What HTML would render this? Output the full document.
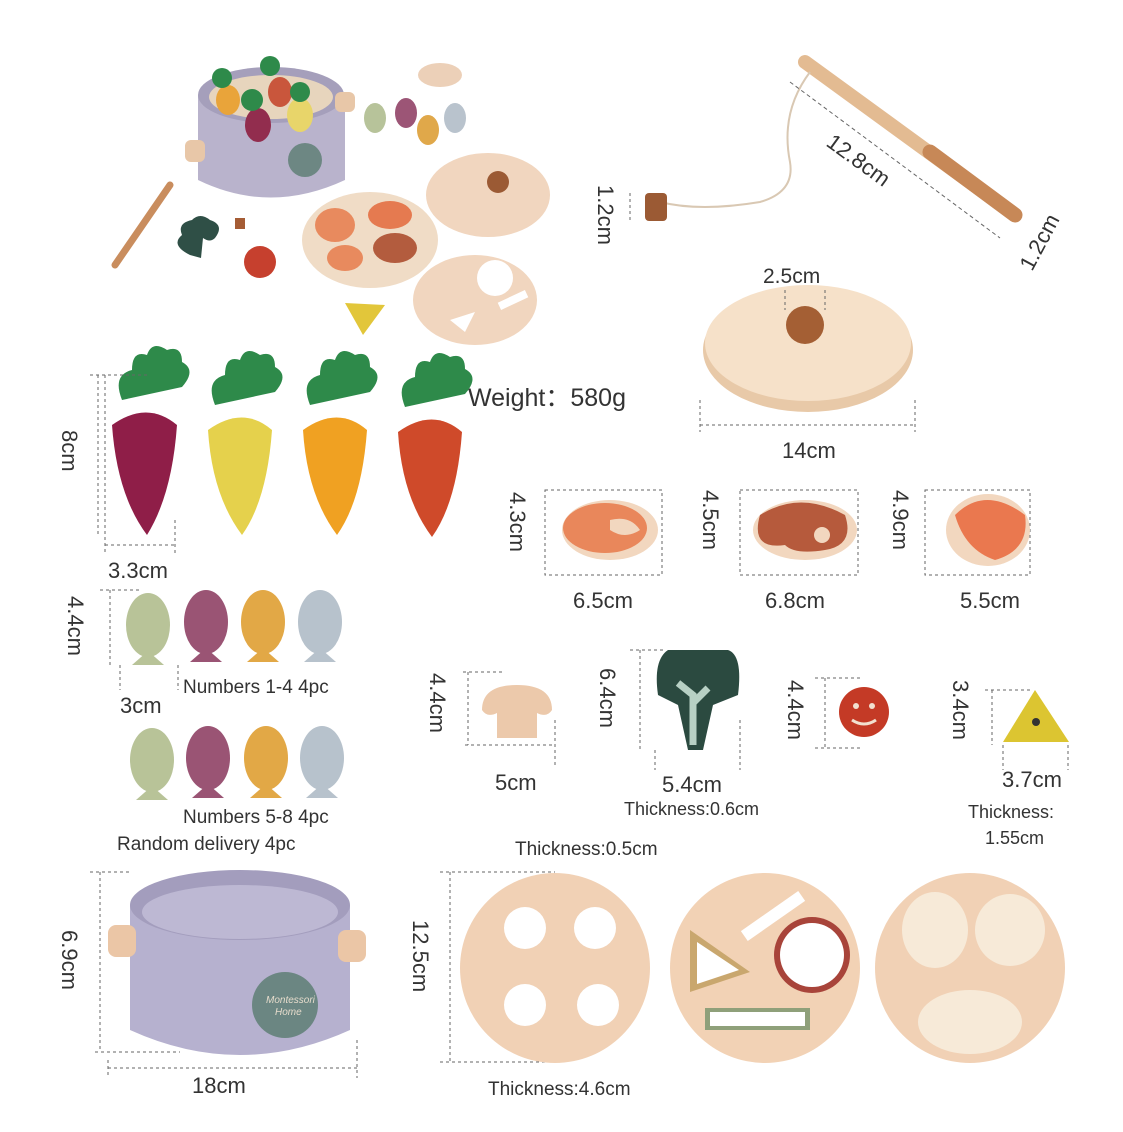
<!DOCTYPE html>
<html><head><meta charset="utf-8"><style>
html,body{margin:0;padding:0;background:#fff;}
svg{display:block;}
text{font-family:"Liberation Sans",sans-serif;fill:#333;}
</style></head><body>
<svg width="1123" height="1132" viewBox="0 0 1123 1132" xmlns="http://www.w3.org/2000/svg">
<rect width="1123" height="1132" fill="#fff"/>
<defs>
<g id="carrotLeaves"><path d="M-25,-5 q-10,-25 10,-30 q0,-20 15,-15 q5,-15 20,-5 q15,-5 15,12 q15,8 0,25 z" fill="#2e8a4a"/></g>
</defs>

<!-- TOP-LEFT COMPOSITE -->
<g>
 <!-- pot -->
 <path d="M198,95 L198,180 Q270,215 345,180 L345,95 Z" fill="#b9b3cc"/>
 <ellipse cx="271" cy="95" rx="73" ry="28" fill="#a59fbb"/>
 <ellipse cx="271" cy="97" rx="62" ry="22" fill="#e7d5bd"/>
 <rect x="185" y="140" width="20" height="22" rx="6" fill="#e8c7a8"/>
 <rect x="335" y="92" width="20" height="20" rx="6" fill="#e8c7a8"/>
 <circle cx="305" cy="160" r="17" fill="#6d8783"/>
 <ellipse cx="228" cy="100" rx="12" ry="15" fill="#e9a43a"/>
 <ellipse cx="258" cy="125" rx="13" ry="17" fill="#922d4e"/>
 <ellipse cx="280" cy="92" rx="12" ry="15" fill="#c9563c"/>
 <ellipse cx="300" cy="115" rx="13" ry="17" fill="#e8d56a"/>
 <circle cx="222" cy="78" r="10" fill="#2e8a4a"/><circle cx="252" cy="100" r="11" fill="#2e8a4a"/>
 <circle cx="270" cy="66" r="10" fill="#2e8a4a"/><circle cx="300" cy="92" r="10" fill="#2e8a4a"/>
 <!-- fish -->
 <ellipse cx="375" cy="118" rx="11" ry="15" fill="#b7c39a"/>
 <ellipse cx="406" cy="113" rx="11" ry="15" fill="#9c5576"/>
 <ellipse cx="428" cy="130" rx="11" ry="15" fill="#e0a84a"/>
 <ellipse cx="455" cy="118" rx="11" ry="15" fill="#b9c3cd"/>
 <ellipse cx="440" cy="75" rx="22" ry="12" fill="#ecd0b8"/>
 <!-- lid -->
 <ellipse cx="488" cy="195" rx="62" ry="42" fill="#f1d6bf"/>
 <circle cx="498" cy="182" r="11" fill="#9b5a34"/>
 <!-- meat plate -->
 <ellipse cx="370" cy="240" rx="68" ry="48" fill="#f0dcc6"/>
 <ellipse cx="335" cy="225" rx="20" ry="17" fill="#e88a5e"/>
 <ellipse cx="390" cy="215" rx="22" ry="14" fill="#e57a50"/>
 <ellipse cx="395" cy="248" rx="22" ry="15" fill="#b35c3e"/>
 <ellipse cx="345" cy="258" rx="18" ry="13" fill="#e88a5e"/>
 <!-- shape disc -->
 <ellipse cx="475" cy="300" rx="62" ry="45" fill="#f1d6bf"/>
 <circle cx="495" cy="278" r="18" fill="#fff"/>
 <path d="M450,320 l25,-8 l-10,20z" fill="#fff"/>
 <rect x="498" y="296" width="30" height="8" fill="#fff" transform="rotate(-25 513 300)"/>
 <!-- misc -->
 <path d="M190,255 q-20,-10 -8,-20 q-5,-12 10,-15 q8,-8 18,0 q15,5 5,18 q-5,5 -12,0 l-2,20 z" fill="#2f4f46"/>
 <circle cx="260" cy="262" r="16" fill="#c6402e"/>
 <path d="M345,303 l40,2 l-22,30z" fill="#e2c63a"/>
 <line x1="115" y1="265" x2="170" y2="185" stroke="#c98d5e" stroke-width="7" stroke-linecap="round"/>
 <rect x="235" y="218" width="10" height="11" fill="#a55c35"/>
</g>

<!-- FISHING ROD -->
<line x1="805" y1="62" x2="1015" y2="215" stroke="#e3bb92" stroke-width="14" stroke-linecap="round"/>
<line x1="930" y1="152" x2="1015" y2="215" stroke="#c78857" stroke-width="15" stroke-linecap="round"/>
<path d="M810,72 q-30,40 -20,90 q5,30 -30,40 q-60,10 -100,0" stroke="#d9c8b3" stroke-width="2" fill="none"/>
<rect x="645" y="193" width="22" height="28" rx="4" fill="#9b5a34"/>
<line x1="790" y1="82" x2="1000" y2="238" stroke="#666" stroke-width="1" stroke-dasharray="4,3"/>
<line x1="630" y1="193" x2="630" y2="223" stroke="#666" stroke-width="1" stroke-dasharray="3,3"/>
<text x="0" y="0" font-size="22" transform="translate(825,145) rotate(36)">12.8cm</text>
<text x="0" y="0" font-size="22" transform="translate(598,185) rotate(90)">1.2cm</text>
<text x="0" y="0" font-size="22" transform="translate(1032,272) rotate(-62)">1.2cm</text>

<!-- LID -->
<ellipse cx="808" cy="350" rx="105" ry="62" fill="#e8c9a8"/>
<ellipse cx="808" cy="343" rx="103" ry="58" fill="#f6e1c9"/>
<circle cx="805" cy="325" r="19" fill="#a45f34"/>
<line x1="785" y1="290" x2="785" y2="310" stroke="#666" stroke-dasharray="3,3"/>
<line x1="825" y1="290" x2="825" y2="310" stroke="#666" stroke-dasharray="3,3"/>
<text x="763" y="283" font-size="21">2.5cm</text>
<line x1="700" y1="400" x2="700" y2="432" stroke="#666" stroke-dasharray="3,3"/>
<line x1="915" y1="400" x2="915" y2="432" stroke="#666" stroke-dasharray="3,3"/>
<line x1="700" y1="425" x2="915" y2="425" stroke="#666" stroke-dasharray="3,3"/>
<text x="782" y="458" font-size="22">14cm</text>

<text x="468" y="406" font-size="25" fill="#333">Weight：580g</text>

<!-- CARROTS -->
<g transform="translate(147,405)"><path d="M-35,20 q35,-25 65,0 q-5,70 -30,110 q-30,-40 -35,-110z" fill="#8f1e48"/><use href="#carrotLeaves"/></g>
<g transform="translate(240,410)"><path d="M-32,20 q35,-25 64,0 q-5,70 -30,105 q-30,-40 -34,-105z" fill="#e5d14c"/><use href="#carrotLeaves"/></g>
<g transform="translate(335,410)"><path d="M-32,20 q35,-25 64,0 q-5,70 -30,105 q-30,-40 -34,-105z" fill="#f0a122"/><use href="#carrotLeaves"/></g>
<g transform="translate(430,412)"><path d="M-32,20 q35,-25 64,0 q-5,70 -30,105 q-30,-40 -34,-105z" fill="#cf4a2a"/><use href="#carrotLeaves"/></g>
<line x1="90" y1="375" x2="150" y2="375" stroke="#666" stroke-dasharray="3,3"/>
<line x1="98" y1="375" x2="98" y2="535" stroke="#666" stroke-dasharray="3,3"/>
<line x1="105" y1="375" x2="105" y2="555" stroke="#666" stroke-dasharray="3,3"/>
<line x1="175" y1="520" x2="175" y2="555" stroke="#666" stroke-dasharray="3,3"/>
<line x1="105" y1="545" x2="175" y2="545" stroke="#666" stroke-dasharray="3,3"/>
<text font-size="22" transform="translate(62,430) rotate(90)">8cm</text>
<text x="108" y="578" font-size="22">3.3cm</text>

<!-- MEATS -->
<g stroke="#666" stroke-dasharray="3,3" fill="none">
<rect x="545" y="490" width="117" height="85"/>
<rect x="740" y="490" width="118" height="85"/>
<rect x="925" y="490" width="105" height="85"/>
</g>
<ellipse cx="610" cy="530" rx="48" ry="30" fill="#f2d7bf"/><ellipse cx="605" cy="528" rx="42" ry="25" fill="#e9875b"/><path d="M610,520 q20,-5 30,10 q-15,10 -30,0z" fill="#f2d7bf"/>
<ellipse cx="805" cy="530" rx="52" ry="30" fill="#f2d7bf"/><path d="M760,515 q40,-25 85,0 q10,30 -20,35 q-30,5 -40,-5 q-35,5 -25,-30z" fill="#b65a3c"/><circle cx="822" cy="535" r="8" fill="#f2d7bf"/>
<ellipse cx="988" cy="530" rx="42" ry="36" fill="#f2d7bf"/><path d="M955,515 q30,-30 70,0 q5,35 -30,45 q-30,-10 -40,-45z" fill="#e9673b" opacity="0.85"/>
<text font-size="22" transform="translate(510,492) rotate(90)">4.3cm</text>
<text font-size="22" transform="translate(703,490) rotate(90)">4.5cm</text>
<text font-size="22" transform="translate(893,490) rotate(90)">4.9cm</text>
<text x="573" y="608" font-size="22">6.5cm</text>
<text x="765" y="608" font-size="22">6.8cm</text>
<text x="960" y="608" font-size="22">5.5cm</text>

<!-- FISH ROW 1 -->
<g>
<ellipse cx="148" cy="625" rx="22" ry="32" fill="#b8c398"/><path d="M132,665 l16,-14 l16,14z" fill="#b8c398"/>
<ellipse cx="206" cy="622" rx="22" ry="32" fill="#9a5474"/><path d="M190,662 l16,-14 l16,14z" fill="#9a5474"/>
<ellipse cx="263" cy="622" rx="22" ry="32" fill="#e2a846"/><path d="M247,662 l16,-14 l16,14z" fill="#e2a846"/>
<ellipse cx="320" cy="622" rx="22" ry="32" fill="#b7c2cc"/><path d="M304,662 l16,-14 l16,14z" fill="#b7c2cc"/>
</g>
<line x1="100" y1="590" x2="140" y2="590" stroke="#666" stroke-dasharray="3,3"/>
<line x1="110" y1="590" x2="110" y2="665" stroke="#666" stroke-dasharray="3,3"/>
<line x1="120" y1="665" x2="120" y2="690" stroke="#666" stroke-dasharray="3,3"/>
<line x1="178" y1="665" x2="178" y2="690" stroke="#666" stroke-dasharray="3,3"/>
<text font-size="22" transform="translate(68,596) rotate(90)">4.4cm</text>
<text x="120" y="713" font-size="22">3cm</text>
<text x="183" y="693" font-size="19">Numbers 1-4 4pc</text>
<!-- FISH ROW 2 -->
<g>
<ellipse cx="152" cy="760" rx="22" ry="32" fill="#b8c398"/><path d="M136,800 l16,-14 l16,14z" fill="#b8c398"/>
<ellipse cx="208" cy="758" rx="22" ry="32" fill="#9a5474"/><path d="M192,798 l16,-14 l16,14z" fill="#9a5474"/>
<ellipse cx="266" cy="758" rx="22" ry="32" fill="#e2a846"/><path d="M250,798 l16,-14 l16,14z" fill="#e2a846"/>
<ellipse cx="322" cy="758" rx="22" ry="32" fill="#b7c2cc"/><path d="M306,798 l16,-14 l16,14z" fill="#b7c2cc"/>
</g>
<text x="183" y="823" font-size="19">Numbers 5-8 4pc</text>
<text x="117" y="850" font-size="19">Random delivery 4pc</text>

<!-- SMALL ITEMS -->
<path d="M482,710 q0,-25 35,-25 q35,0 35,25 q-5,8 -15,3 l0,25 l-40,0 l0,-25 q-10,5 -15,-3z" fill="#ecc9ab"/>
<line x1="463" y1="672" x2="503" y2="672" stroke="#666" stroke-dasharray="3,3"/>
<line x1="468" y1="672" x2="468" y2="745" stroke="#666" stroke-dasharray="3,3"/>
<line x1="465" y1="745" x2="555" y2="745" stroke="#666" stroke-dasharray="3,3"/>
<line x1="555" y1="720" x2="555" y2="765" stroke="#666" stroke-dasharray="3,3"/>
<text font-size="22" transform="translate(430,673) rotate(90)">4.4cm</text>
<text x="495" y="790" font-size="22">5cm</text>

<path d="M668,650 l60,0 q15,5 10,45 l-25,10 l-10,45 l-15,0 l-10,-45 l-20,-10 q-5,-35 10,-45z" fill="#2b4a40"/>
<path d="M693,745 l0,-50 l-15,-12 m15,20 l15,-15" stroke="#b7d0c4" stroke-width="7" fill="none"/>
<line x1="630" y1="650" x2="665" y2="650" stroke="#666" stroke-dasharray="3,3"/>
<line x1="640" y1="650" x2="640" y2="750" stroke="#666" stroke-dasharray="3,3"/>
<line x1="655" y1="750" x2="655" y2="770" stroke="#666" stroke-dasharray="3,3"/>
<line x1="740" y1="720" x2="740" y2="770" stroke="#666" stroke-dasharray="3,3"/>
<text font-size="22" transform="translate(600,668) rotate(90)">6.4cm</text>
<text x="662" y="792" font-size="22">5.4cm</text>
<text x="624" y="815" font-size="18">Thickness:0.6cm</text>

<circle cx="864" cy="712" r="25" fill="#c43a26"/>
<circle cx="856" cy="706" r="3" fill="#f2e0d0"/><circle cx="872" cy="706" r="3" fill="#f2e0d0"/><path d="M852,720 q12,8 24,0" stroke="#f2e0d0" stroke-width="3" fill="none"/>
<line x1="815" y1="678" x2="860" y2="678" stroke="#666" stroke-dasharray="3,3"/>
<line x1="825" y1="678" x2="825" y2="748" stroke="#666" stroke-dasharray="3,3"/>
<line x1="815" y1="748" x2="860" y2="748" stroke="#666" stroke-dasharray="3,3"/>
<text font-size="22" transform="translate(788,680) rotate(90)">4.4cm</text>

<path d="M1003,742 l32,-52 l34,52z" fill="#dcc531"/>
<circle cx="1036" cy="722" r="4" fill="#333"/>
<line x1="985" y1="690" x2="1030" y2="690" stroke="#666" stroke-dasharray="3,3"/>
<line x1="992" y1="690" x2="992" y2="745" stroke="#666" stroke-dasharray="3,3"/>
<line x1="1003" y1="745" x2="1003" y2="770" stroke="#666" stroke-dasharray="3,3"/>
<line x1="1068" y1="745" x2="1068" y2="770" stroke="#666" stroke-dasharray="3,3"/>
<text font-size="22" transform="translate(953,680) rotate(90)">3.4cm</text>
<text x="1002" y="787" font-size="22">3.7cm</text>
<text x="968" y="818" font-size="18">Thickness:</text>
<text x="985" y="844" font-size="18">1.55cm</text>

<!-- POT BOTTOM -->
<path d="M130,905 L130,1030 Q240,1080 350,1030 L350,905 Z" fill="#b6b1cf"/>
<ellipse cx="240" cy="905" rx="110" ry="35" fill="#a39dbd"/>
<ellipse cx="240" cy="912" rx="98" ry="27" fill="#bdb8d3"/>
<rect x="108" y="925" width="28" height="32" rx="8" fill="#ebc6a6"/>
<rect x="338" y="930" width="28" height="32" rx="8" fill="#ebc6a6"/>
<circle cx="285" cy="1005" r="33" fill="#6b8682"/>
<text x="266" y="1003" font-size="10" fill="#e6dccc" style="fill:#e6dccc;font-style:italic">Montessori</text>
<text x="275" y="1015" font-size="10" style="fill:#e6dccc;font-style:italic">Home</text>
<line x1="90" y1="872" x2="130" y2="872" stroke="#666" stroke-dasharray="3,3"/>
<line x1="100" y1="872" x2="100" y2="1052" stroke="#666" stroke-dasharray="3,3"/>
<line x1="95" y1="1052" x2="180" y2="1052" stroke="#666" stroke-dasharray="3,3"/>
<line x1="108" y1="1060" x2="108" y2="1078" stroke="#666" stroke-dasharray="3,3"/>
<line x1="357" y1="1040" x2="357" y2="1078" stroke="#666" stroke-dasharray="3,3"/>
<line x1="108" y1="1068" x2="357" y2="1068" stroke="#666" stroke-dasharray="3,3"/>
<text font-size="22" transform="translate(62,930) rotate(90)">6.9cm</text>
<text x="192" y="1093" font-size="22">18cm</text>

<!-- DISCS -->
<text x="515" y="855" font-size="19">Thickness:0.5cm</text>
<line x1="440" y1="872" x2="555" y2="872" stroke="#666" stroke-dasharray="3,3"/>
<line x1="450" y1="872" x2="450" y2="1062" stroke="#666" stroke-dasharray="3,3"/>
<line x1="440" y1="1062" x2="555" y2="1062" stroke="#666" stroke-dasharray="3,3"/>
<text font-size="22" transform="translate(413,920) rotate(90)">12.5cm</text>
<text x="488" y="1095" font-size="19">Thickness:4.6cm</text>

<circle cx="555" cy="968" r="95" fill="#f1d1b5"/>
<circle cx="525" cy="928" r="21" fill="#fff"/><circle cx="595" cy="928" r="21" fill="#fff"/>
<circle cx="525" cy="1005" r="21" fill="#fff"/><circle cx="598" cy="1005" r="21" fill="#fff"/>

<circle cx="765" cy="968" r="95" fill="#f2d2b5"/>
<circle cx="812" cy="955" r="38" fill="#a8443a"/><circle cx="812" cy="955" r="32" fill="#fff"/>
<path d="M690,930 l0,62 l60,-20z" fill="#c9a76e"/><path d="M697,942 l0,42 l42,-14z" fill="#fff"/>
<rect x="705" y="1008" width="105" height="22" fill="#8fa07a"/><rect x="710" y="1012" width="95" height="14" fill="#fff"/>
<rect x="738" y="910" width="70" height="12" fill="#fff" transform="rotate(-35 773 916)"/>

<circle cx="970" cy="968" r="95" fill="#f1d1b5"/>
<ellipse cx="935" cy="930" rx="33" ry="38" fill="#f7ead8"/>
<ellipse cx="1010" cy="930" rx="35" ry="36" fill="#f7ead8"/>
<ellipse cx="970" cy="1022" rx="52" ry="32" fill="#f7ead8"/>
</svg>
</body></html>
